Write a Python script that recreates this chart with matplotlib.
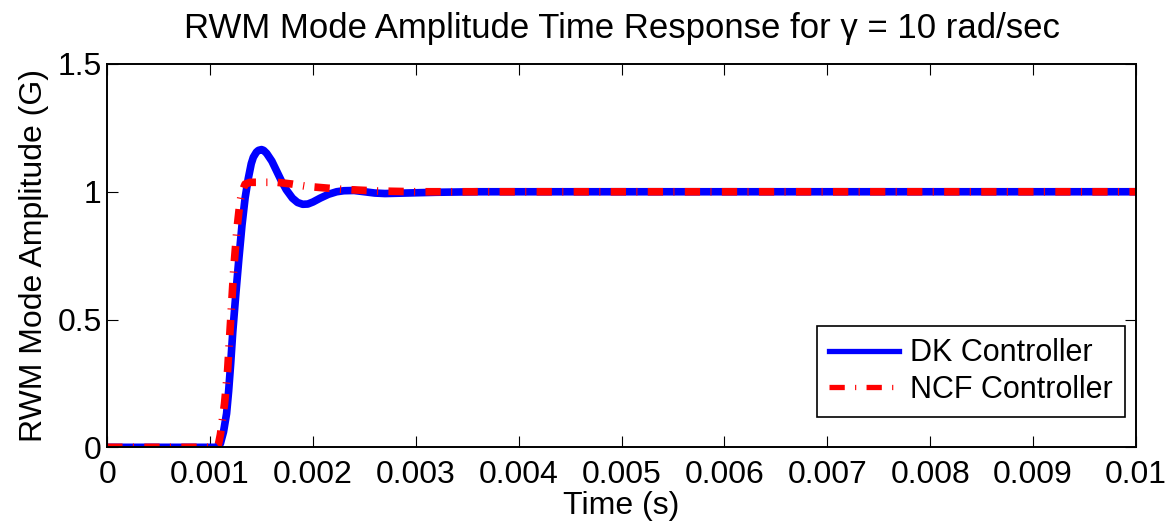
import numpy as np
import matplotlib
matplotlib.use('Agg')
import matplotlib.pyplot as plt

plt.rcParams['font.family'] = ['Liberation Sans', 'DejaVu Sans']

# DK controller response
t_dk = [0.0, 0.00105, 0.00108, 0.0011, 0.00113, 0.00116, 0.00118, 0.0012,
        0.00122, 0.00125, 0.00128, 0.00131, 0.00134, 0.00137, 0.0014,
        0.00142, 0.00145, 0.00147, 0.0015, 0.00152, 0.00155, 0.0016,
        0.00163, 0.00169, 0.00174, 0.0018, 0.00185, 0.0019, 0.00195,
        0.002, 0.00207, 0.00215, 0.00223, 0.0023, 0.0024, 0.0025, 0.0026,
        0.0027, 0.0029, 0.0032, 0.0036, 0.01]
y_dk = [0.0, 0.0, 0.003, 0.015, 0.06, 0.132, 0.22, 0.328,
        0.45, 0.6, 0.74, 0.87, 0.975, 1.05, 1.11,
        1.135, 1.155, 1.162, 1.165, 1.162, 1.15, 1.12,
        1.095, 1.045, 1.008, 0.975, 0.958, 0.951, 0.952,
        0.96, 0.975, 0.99, 1.0, 1.004, 1.005, 1.0, 0.995,
        0.993, 0.995, 0.998, 1.0, 1.0]

# NCF controller response
t_ncf = [0.0, 0.00105, 0.00108, 0.0011, 0.00114, 0.00117, 0.0012, 0.00123,
         0.00126, 0.00129, 0.00131, 0.00134, 0.00139, 0.00165, 0.0018,
         0.00194, 0.00226, 0.00262, 0.003, 0.01]
y_ncf = [0.0, 0.0, 0.01, 0.05, 0.17, 0.3, 0.5, 0.7,
         0.85, 0.96, 1.0, 1.03, 1.037, 1.037, 1.03,
         1.021, 1.01, 1.003, 1.0, 1.0]

x_ticks = [0, 0.001, 0.002, 0.003, 0.004, 0.005, 0.006, 0.007, 0.008, 0.009, 0.01]
x_ticklabels = ['0', '0.001', '0.002', '0.003', '0.004', '0.005', '0.006',
                '0.007', '0.008', '0.009', '0.01']
y_ticks = [0, 0.5, 1, 1.5]
y_ticklabels = ['0', '0.5', '1', '1.5']

fs = 23
lw = 5.5
ncf_dashes = [2, 1.35, 0.15, 1.35]

fig = plt.figure(figsize=(11.67, 5.27), dpi=100)
ax = fig.add_axes([0.0919, 0.1512, 0.9734 - 0.0919, 0.8786 - 0.1512])

ax.plot(t_dk, y_dk, color='#0000ff', lw=lw, solid_joinstyle='round',
        label='DK Controller')
ncf, = ax.plot(t_ncf, y_ncf, color='#ff0000', lw=lw, label='NCF Controller')
ncf.set_dashes(ncf_dashes)
ncf.set_dash_capstyle('butt')

ax.set_xlim(0, 0.01)
ax.set_ylim(0, 1.5)
ax.set_xticks(x_ticks)
ax.set_xticklabels(x_ticklabels)
ax.set_yticks(y_ticks)
ax.set_yticklabels(y_ticklabels)
ax.tick_params(direction='in', length=8, width=0.8, labelsize=fs,
               top=True, right=True)
ax.tick_params(axis='x', pad=9)
ax.tick_params(axis='y', pad=4)
for s in ax.spines.values():
    s.set_linewidth(1.4)

ax.set_xlabel('Time (s)', fontsize=fs, labelpad=1)
ax.set_ylabel('RWM Mode Amplitude (G)', fontsize=fs, labelpad=6)
ax.set_title('RWM Mode Amplitude Time Response for γ = 10 rad/sec',
             fontsize=25, pad=19)

leg = ax.legend(loc='lower right', bbox_to_anchor=(0.9893, 0.0798),
                borderaxespad=0, fontsize=22, fancybox=False, framealpha=1,
                edgecolor='black', handlelength=2.3, handletextpad=0.35,
                labelspacing=0.2, borderpad=0.4)
leg.get_frame().set_linewidth(1.2)
for ln in leg.get_lines():
    ln.set_linewidth(3.8)
leg.get_lines()[1].set_dashes([d * lw / 3.8 for d in ncf_dashes])

fig.savefig('out.png', dpi=100)
